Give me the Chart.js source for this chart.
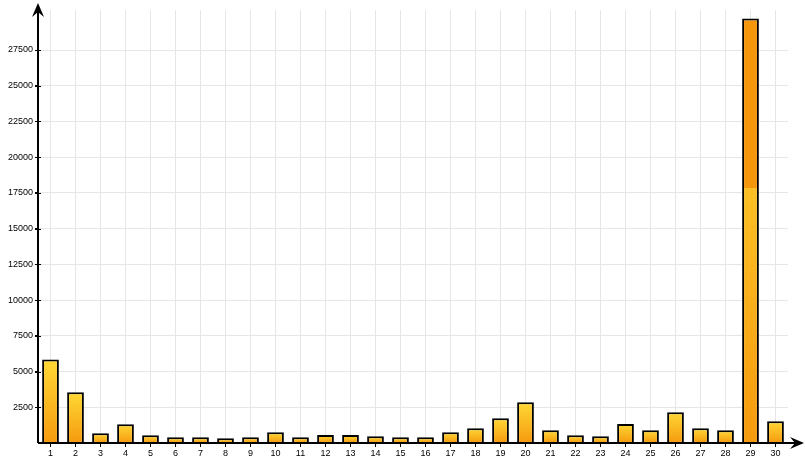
<!DOCTYPE html>
<html>
<head>
<meta charset="utf-8">
<script src="https://cdn.jsdelivr.net/npm/chart.js@4/dist/chart.umd.min.js"></script>
<style>
  html, body { margin: 0; padding: 0; background: #fff; }
  #wrap { width: 805px; height: 465px; position: relative; }
</style>
</head>
<body>
<div id="wrap"><canvas id="bars"></canvas></div>
<script>
// categories and values
var days = ['1','2','3','4','5','6','7','8','9','10','11','12','13','14','15',
            '16','17','18','19','20','21','22','23','24','25','26','27','28','29','30'];
var counts = [5850, 3550, 680, 1310, 540, 400, 400, 330, 400, 750, 400, 560, 560, 470, 400,
              400, 750, 1030, 1730, 2850, 890, 540, 470, 1330, 890, 2150, 1030, 890, 29700, 1520];
var yTickValues = [2500, 5000, 7500, 10000, 12500, 15000, 17500, 20000, 22500, 25000, 27500];

var TOP = [255, 216, 53];
var BOTTOM = [245, 154, 14];
var SOLID = 'rgb(246,150,12)';

function mix(t) {
    var c = TOP.map(function (v, i) { return Math.round(v + (BOTTOM[i] - v) * t); });
    return 'rgb(' + c.join(',') + ')';
}

// yellow -> orange per bar, only the lowest 255px get the gradient
function barFill(c) {
    var chart = c.chart;
    if (!chart.chartArea || !chart.scales.y) return SOLID;
    var y = chart.scales.y;
    var top = y.getPixelForValue(c.raw);
    var base = y.getPixelForValue(0);
    var h = base - top;
    var g = chart.ctx.createLinearGradient(0, top, 0, base);
    if (h > 255) {
        var cut = (h - 255) / h;
        g.addColorStop(0, SOLID);
        g.addColorStop(cut, SOLID);
        g.addColorStop(Math.min(cut + 0.001, 1), mix(cut));
    } else {
        g.addColorStop(0, mix(0));
    }
    g.addColorStop(1, mix(1));
    return g;
}

function arrow(ctx, x, y, dir) {
    // dir: 'up' or 'right'
    ctx.save();
    ctx.translate(x, y);
    if (dir === 'right') ctx.rotate(Math.PI / 2);
    ctx.beginPath();
    ctx.moveTo(0, 0);
    ctx.lineTo(6, 14);
    ctx.lineTo(0, 9);
    ctx.lineTo(-6, 14);
    ctx.closePath();
    ctx.fillStyle = '#000';
    ctx.fill();
    ctx.restore();
}

var axesPlugin = {
    id: 'axesPlugin',
    afterDatasetsDraw: function (chart) {
        var ctx = chart.ctx;
        var a = chart.chartArea;
        var y = chart.scales.y;
        ctx.save();
        ctx.strokeStyle = '#000';
        ctx.lineWidth = 2;
        ctx.beginPath();
        ctx.moveTo(a.left, a.bottom);
        ctx.lineTo(a.left, 8);
        ctx.moveTo(a.left, a.bottom);
        ctx.lineTo(798, a.bottom);
        ctx.stroke();
        // inner half of the y ticks
        ctx.lineWidth = 1;
        yTickValues.forEach(function (v) {
            var py = Math.round(y.getPixelForValue(v)) + 0.5;
            ctx.beginPath();
            ctx.moveTo(a.left - 3, py);
            ctx.lineTo(a.left + 3, py);
            ctx.stroke();
        });
        arrow(ctx, a.left, 3, 'up');
        arrow(ctx, 804, a.bottom, 'right');
        ctx.restore();
    }
};

var chart = new Chart(document.getElementById('bars').getContext('2d'), {
    type: 'bar',
    data: {
        labels: days,
        datasets: [{
            data: counts,
            backgroundColor: barFill,
            borderColor: '#000',
            borderWidth: 2,
            borderSkipped: 'start',
            barPercentage: 0.67,
            categoryPercentage: 1
        }]
    },
    options: {
        responsive: true,
        maintainAspectRatio: false,
        animation: false,
        events: [],
        layout: { padding: { top: 10, right: 17, bottom: 0, left: 0 } },
        plugins: { legend: { display: false }, tooltip: { enabled: false } },
        scales: {
            x: {
                offset: true,
                grid: {
                    offset: false,
                    color: '#e6e6e6',
                    lineWidth: 1,
                    tickColor: '#000',
                    tickLength: 4
                },
                border: { display: false },
                ticks: {
                    color: '#000',
                    padding: 1,
                    autoSkip: false,
                    maxRotation: 0,
                    font: { family: 'Liberation Sans', size: 9 }
                },
                afterFit: function (s) { s.height = 22; }
            },
            y: {
                min: 0,
                max: 30300,
                grid: {
                    color: '#e6e6e6',
                    lineWidth: 1,
                    tickColor: '#000',
                    tickLength: 3
                },
                border: { display: false },
                ticks: {
                    color: '#000',
                    padding: 2,
                    font: { family: 'Liberation Sans', size: 9 },
                    callback: function (v) { return String(v); }
                },
                afterBuildTicks: function (s) {
                    s.ticks = yTickValues.map(function (v) { return { value: v }; });
                },
                afterFit: function (s) { s.width = 38; }
            }
        }
    },
    plugins: [axesPlugin]
});
</script>
</body>
</html>
